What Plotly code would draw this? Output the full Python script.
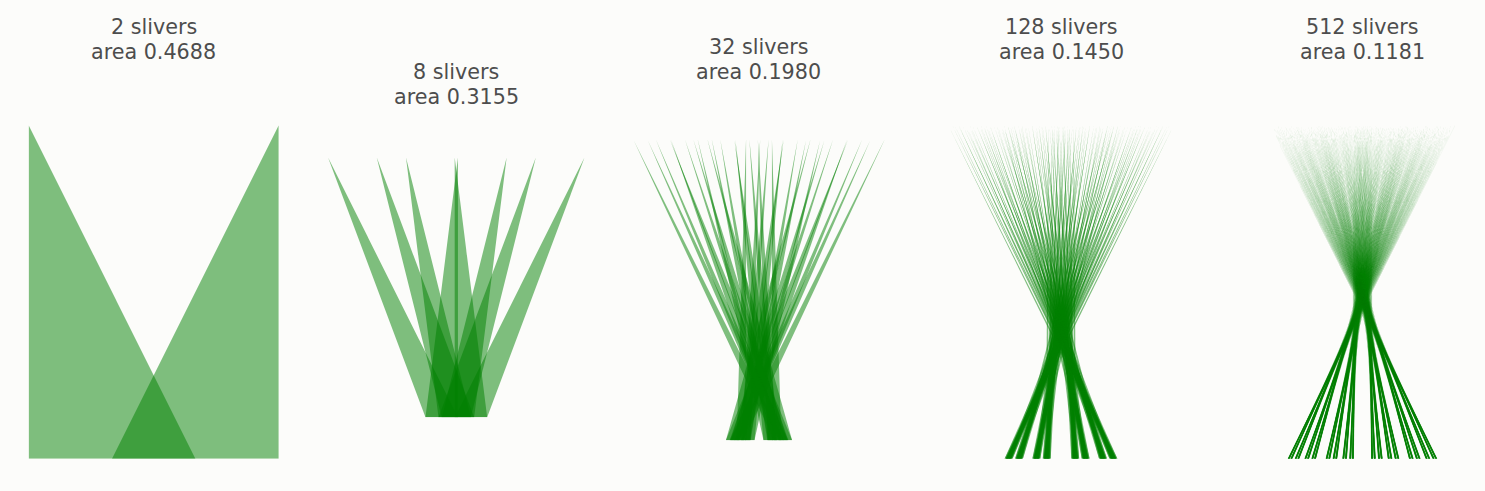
import numpy as np
import plotly.graph_objects as go

# Perron tree panels: number of slivers and the area printed above each one
SLIVER_COUNTS = [2, 8, 32, 128, 512]
AREA_LABELS = ["0.4688", "0.3155", "0.1980", "0.1450", "0.1181"]

# page layout (px): panel centres, pixels per unit, vertical reference
FIG_W, FIG_H = 1485, 491
PANEL_CX = [153.7, 456.3, 759.0, 1061.0, 1362.5]
PANEL_SCALE = [333.5, 259.7, 300.7, 333.5, 333.5]
YC = 271.6


def perron_slivers(n):
    # split the unit triangle into n slivers, slide the right half of every
    # group of 2^j slivers to the left by (1 - a_j) of the group width
    k = int(round(np.log2(n)))
    i = np.arange(n)
    shift = np.zeros(n)
    for j in range(1, k + 1):
        a = j / (j + 3)
        bit = (i >> (j - 1)) & 1
        shift -= bit * (1 - a) * 2 ** j / n
    return i / n + shift, (i + 1) / n + shift, 0.5 + shift


fig = go.Figure()
for p, n in enumerate(SLIVER_COUNTS):
    left, right, apex = perron_slivers(n)
    xmin = min(left.min(), apex.min())
    xmax = max(right.max(), apex.max())
    w = xmax - xmin
    s = PANEL_SCALE[p]
    cx = PANEL_CX[p]
    ymid = YC + 0.061 * s
    x0, x1 = cx - s * w / 2, cx + s * w / 2
    top, bot = ymid - s / 2, ymid + s / 2
    xa = "x" if p == 0 else "x%d" % (p + 1)
    ya = "y" if p == 0 else "y%d" % (p + 1)
    for l, r, t in zip(left, right, apex):
        fig.add_trace(go.Scatter(
            x=[l, r, t, l], y=[0, 0, 1, 0], xaxis=xa, yaxis=ya,
            mode="lines", fill="toself", line=dict(width=0, color="rgba(0,0,0,0)"),
            fillcolor="rgba(0,128,0,0.5)", hoverinfo="skip", showlegend=False))
    sfx = "" if p == 0 else str(p + 1)
    fig.update_layout(**{
        "xaxis" + sfx: dict(domain=[x0 / FIG_W, x1 / FIG_W], range=[xmin, xmax],
                            visible=False, anchor=ya, fixedrange=True),
        "yaxis" + sfx: dict(domain=[1 - bot / FIG_H, 1 - top / FIG_H], range=[0, 1],
                            visible=False, anchor=xa, fixedrange=True),
    })
    # two-line title above the panel
    line2 = YC - 0.6115 * s - 16.0
    for txt, yy in (("%d slivers" % n, line2 - 24.8), ("area " + AREA_LABELS[p], line2)):
        fig.add_annotation(text=txt, x=cx / FIG_W, y=1 - yy / FIG_H, xref="paper", yref="paper",
                           showarrow=False, xanchor="center", yanchor="middle",
                           font=dict(family="DejaVu Sans", size=20.7, color="#4d4d4d"))

fig.update_layout(width=FIG_W, height=FIG_H, margin=dict(l=0, r=0, t=0, b=0),
                  paper_bgcolor="#fcfcfa", plot_bgcolor="rgba(0,0,0,0)")

fig.write_html("out.html", config={"displayModeBar": False},
               post_script="document.body.style.margin='0';")
